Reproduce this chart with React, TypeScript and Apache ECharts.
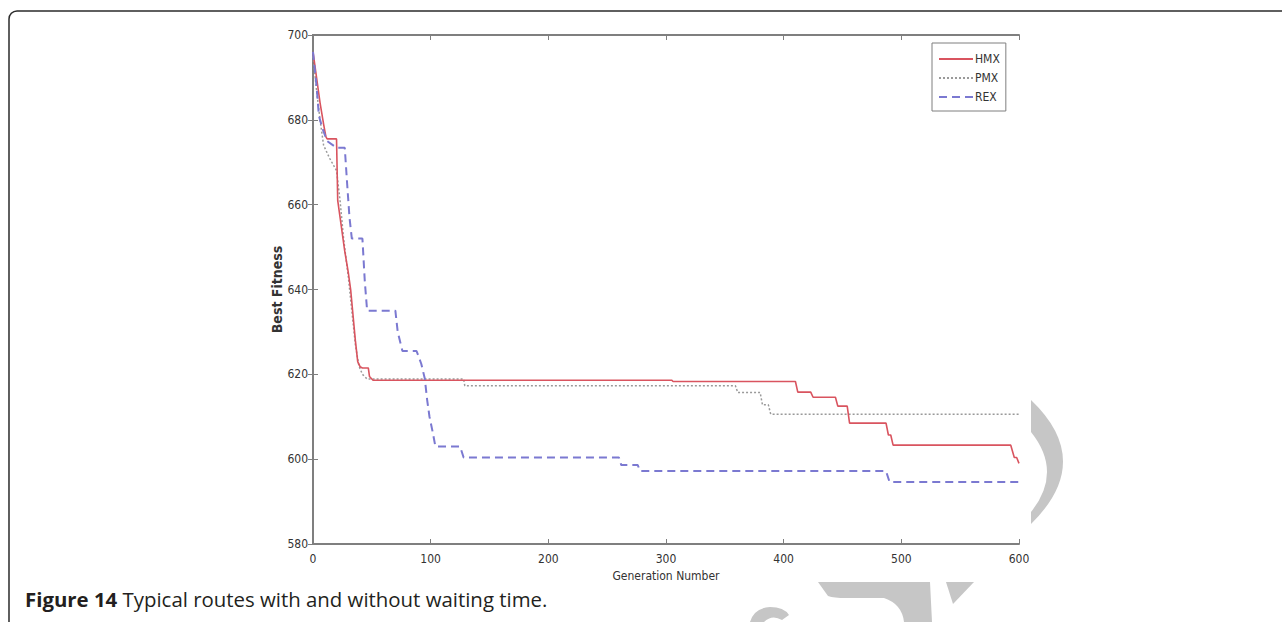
import React, { useEffect, useRef } from "react";
import * as echarts from "echarts";

// ---- data ----
const xTicks = [0, 100, 200, 300, 400, 500, 600];
const yTicks = [580, 600, 620, 640, 660, 680, 700];
const seriesNames = ["HMX", "PMX", "REX"];

const hmxGen = [0, 3, 6, 9, 11, 12, 20, 21, 24, 27, 30, 32, 34, 36, 38, 40, 42, 47, 48, 51, 305, 306, 410, 412, 423, 425, 444, 446, 454, 456, 487, 489, 491, 493, 593, 596, 598, 600];
const hmxFit = [696, 690, 684, 679, 676, 675.5, 675.5, 661, 655, 649, 644, 640, 634, 628, 623, 621.8, 621.5, 621.5, 619.5, 618.6, 618.6, 618.3, 618.3, 615.8, 615.8, 614.6, 614.6, 612.5, 612.5, 608.5, 608.5, 605.7, 605.7, 603.3, 603.3, 600.4, 600.4, 599];

const pmxGen = [0, 3, 6, 9, 14, 20, 23, 26, 30, 33, 36, 39, 42, 46, 128, 129, 359, 361, 380, 382, 387, 389, 600];
const pmxFit = [695, 687, 680, 674, 671, 668, 661, 652, 643, 635, 627, 622, 620, 618.9, 618.9, 617.3, 617.3, 615.7, 615.7, 612.8, 612.8, 610.6, 610.6];

const rexGen = [0, 3, 5, 8, 12, 20, 27, 29, 31, 33, 42, 44, 46, 70, 72, 76, 88, 92, 95, 97, 99, 102, 104, 125, 128, 260, 262, 276, 278, 487, 490, 600];
const rexFit = [696, 688, 681, 678, 675, 673.4, 673.4, 665, 657, 652, 652, 642, 635, 635, 630, 625.5, 625.5, 622.5, 619, 614, 610, 606, 603, 603, 600.4, 600.4, 598.6, 598.6, 597.2, 597.2, 594.6, 594.6];

const caption = "Typical routes with and without waiting time.";
const captionBold = "Figure 14";

const zip = (a: number[], b: number[]) => a.map((v, i) => [v, b[i]]);

const narrow = "'Liberation Sans Narrow', 'DejaVu Sans Condensed', 'Liberation Sans', sans-serif";

let registered = false;
function registerShapes() {
  if (registered) return;
  registered = true;
  echarts.graphic.registerShape(
    "wmCrescent",
    echarts.graphic.extendPath(
      "M1031 400 Q1095 461 1031 524 L1031 512 Q1063 472 1031 432 Z",
      {}
    )
  );
  echarts.graphic.registerShape(
    "wmArch",
    echarts.graphic.extendPath(
      "M818 582 L930 582 L932 622 L904 622 Q902 604 884 598 L846 598 Q834 598 828 596 Z",
      {}
    )
  );
  echarts.graphic.registerShape(
    "wmBlob",
    echarts.graphic.extendPath(
      "M750 622 Q754 608 770 607 Q784 607 789 615 L782 620 Q772 614 764 622 Z",
      {}
    )
  );
}

export default function App() {
  const ref = useRef<HTMLDivElement>(null);

  useEffect(() => {
    document.body.style.margin = "0";
    registerShapes();
    const chart = echarts.init(ref.current!, undefined, { renderer: "svg" });
    const axisColor = "#7f7f7f";
    const labelStyle = { color: "#333", fontSize: 12, fontFamily: narrow };

    chart.setOption({
      animation: false,
      backgroundColor: "#fff",
      grid: { left: 313, right: 263, top: 35, bottom: 78 },
      legend: {
        data: seriesNames,
        orient: "vertical",
        left: 932,
        top: 43,
        itemWidth: 34,
        itemHeight: 8,
        itemGap: 7,
        padding: [10, 6, 8, 6],
        borderColor: axisColor,
        borderWidth: 1,
        backgroundColor: "#fff",
        itemStyle: { opacity: 0 },
        textStyle: { color: "#333", fontSize: 12, fontFamily: narrow, padding: [0, 0, 0, -3] },
      },
      xAxis: [
        {
          type: "value",
          min: xTicks[0],
          max: xTicks[xTicks.length - 1],
          interval: 100,
          position: "bottom",
          axisLine: { show: true, lineStyle: { color: axisColor, width: 2 } },
          axisTick: { show: true, inside: true, length: 5, lineStyle: { color: axisColor, width: 1 } },
          axisLabel: { ...labelStyle, margin: 9 },
          splitLine: { show: false },
          name: "Generation Number",
          nameLocation: "middle",
          nameGap: 26,
          nameTextStyle: { color: "#333", fontSize: 12, fontFamily: narrow },
        },
        {
          type: "value",
          min: xTicks[0],
          max: xTicks[xTicks.length - 1],
          interval: 100,
          position: "top",
          axisLine: { show: true, lineStyle: { color: axisColor, width: 2 } },
          axisTick: { show: true, inside: true, length: 5, lineStyle: { color: axisColor, width: 1 } },
          axisLabel: { show: false },
          splitLine: { show: false },
        },
      ],
      yAxis: [
        {
          type: "value",
          min: yTicks[0],
          max: yTicks[yTicks.length - 1],
          interval: 20,
          position: "left",
          axisLine: { show: true, lineStyle: { color: axisColor, width: 2 } },
          axisTick: { show: true, inside: true, length: 5, lineStyle: { color: axisColor, width: 1 } },
          axisLabel: { ...labelStyle, margin: 5 },
          splitLine: { show: false },
          name: "Best Fitness",
          nameLocation: "middle",
          nameGap: 29,
          nameMoveOverlap: false,
          nameTextStyle: { color: "#333", fontSize: 14, fontWeight: "bold", fontFamily: narrow },
        },
        {
          type: "value",
          min: yTicks[0],
          max: yTicks[yTicks.length - 1],
          interval: 20,
          position: "right",
          axisLine: { show: true, lineStyle: { color: axisColor, width: 2 } },
          axisTick: { show: true, inside: true, length: 5, lineStyle: { color: axisColor, width: 1 } },
          axisLabel: { show: false },
          splitLine: { show: false },
        },
      ],
      series: [
        {
          name: seriesNames[0],
          type: "line",
          symbol: "none",
          data: zip(hmxGen, hmxFit),
          lineStyle: { color: "#d9545f", width: 1.6, type: "solid" },
          itemStyle: { color: "#d9545f" },
          z: 4,
        },
        {
          name: seriesNames[1],
          type: "line",
          symbol: "none",
          data: zip(pmxGen, pmxFit),
          lineStyle: { color: "#9a9a9a", width: 1.5, type: [2, 2] },
          itemStyle: { color: "#9a9a9a" },
          z: 3,
        },
        {
          name: seriesNames[2],
          type: "line",
          symbol: "none",
          data: zip(rexGen, rexFit),
          lineStyle: { color: "#7b79d1", width: 2, type: [8, 5] },
          itemStyle: { color: "#7b79d1" },
          z: 5,
        },
      ],
      graphic: [
        {
          type: "rect",
          silent: true,
          shape: { x: 9, y: 11, width: 1400, height: 800, r: 8 },
          style: { fill: "none", stroke: "#2b2b2b", lineWidth: 1.5 },
        },
        { type: "wmCrescent", x: 0, y: 0, silent: true, style: { fill: "#c6c6c6" } },
        { type: "wmArch", x: 0, y: 0, silent: true, style: { fill: "#c6c6c6" } },
        { type: "wmBlob", x: 0, y: 0, silent: true, style: { fill: "#c6c6c6" } },
        {
          type: "polygon",
          silent: true,
          shape: { points: [[946, 582], [974, 582], [953, 604]] },
          style: { fill: "#c6c6c6" },
        },
        {
          type: "text",
          x: 25,
          y: 589,
          silent: true,
          style: {
            text: "{b|" + captionBold + "} " + caption,
            fontSize: 20.4,
            fontFamily: "'Open Sans', 'Noto Sans', sans-serif",
            fill: "#231f20",
            rich: {
              b: { fontSize: 20.4, fontWeight: "bold", fontFamily: "'Open Sans', 'Noto Sans', sans-serif", fill: "#231f20" },
            },
          },
        },
      ],
    });
    return () => chart.dispose();
  }, []);

  return <div ref={ref} style={{ width: 1282, height: 622 }} />;
}
